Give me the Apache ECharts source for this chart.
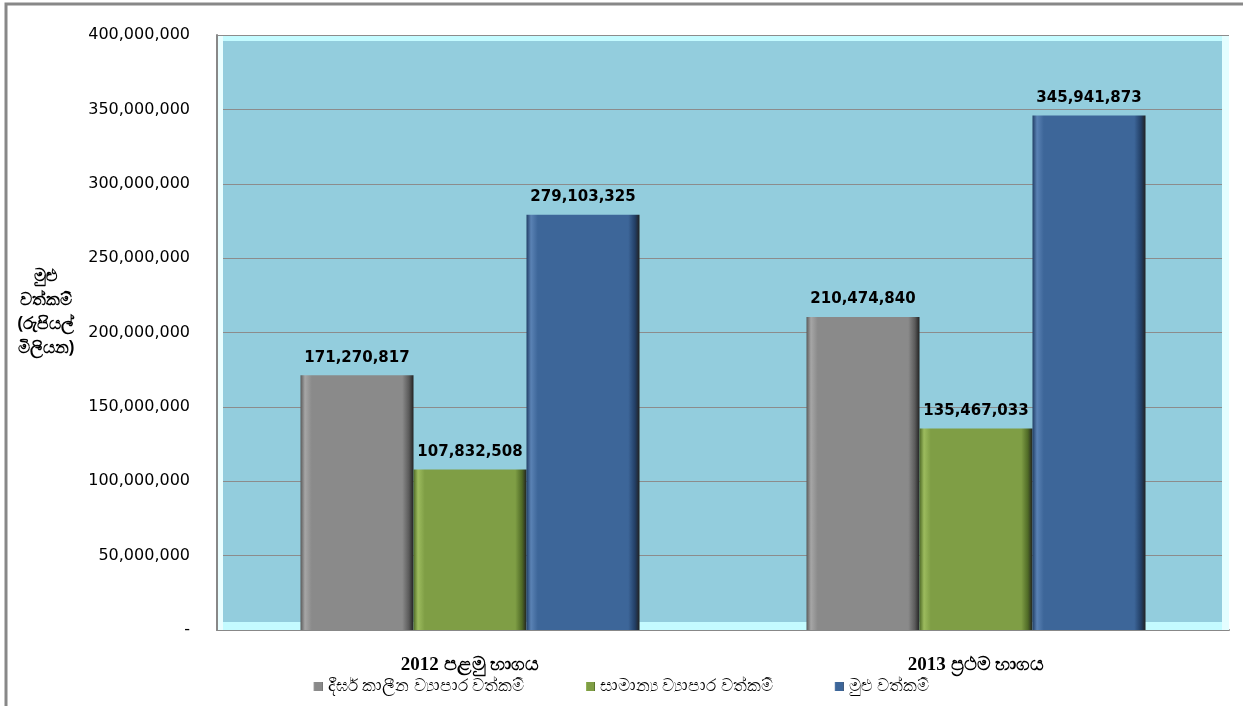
<!DOCTYPE html>
<html>
<head>
<meta charset="utf-8">
<script src="https://cdn.jsdelivr.net/npm/echarts@6/dist/echarts.min.js"></script>
<style>
html,body{margin:0;padding:0;background:#fff;}
#chart{width:1243px;height:706px;}
</style>
</head>
<body>
<div id="chart"></div>
<script>
var categories = ['2012 පළමු භාගය', '2013 ප්‍රථම භාගය'];
var seriesNames = ['දීර්ඝ කාලීන ව්‍යාපාර වත්කම්', 'සාමාන්‍ය ව්‍යාපාර වත්කම්', 'මුළු වත්කම්'];
var longTermAssets = [171270817, 210474840];
var currentAssets = [107832508, 135467033];
var totalAssets = [279103325, 345941873];
var yTicks = [0, 50000000, 100000000, 150000000, 200000000, 250000000, 300000000, 350000000, 400000000];
var yAxisTitle = 'මුළු\nවත්කම්\n(රුපියල්\nමිලියන)';

var colors = [
  ['#a6a6a6', '#8a8a8a', '#5a5a5a'],
  ['#9cbb5e', '#7f9e45', '#4f6a26'],
  ['#5a82b4', '#3d6699', '#223f66']
];
function grad(c) {
  return new echarts.graphic.LinearGradient(0, 0, 1, 0, [
    {offset: 0, color: c[2]},
    {offset: 0.04, color: c[0]},
    {offset: 0.1, color: c[1]},
    {offset: 0.9, color: c[1]},
    {offset: 0.96, color: c[2]},
    {offset: 1, color: '#222'}
  ]);
}
function fmt(v) { return v.toLocaleString('en-US'); }

var chart = echarts.init(document.getElementById('chart'));
var dataSets = [longTermAssets, currentAssets, totalAssets];
var series = dataSets.map(function (d, i) {
  return {
    name: seriesNames[i],
    type: 'bar',
    data: d,
    barGap: '0%',
    barCategoryGap: '33%',
    itemStyle: {color: grad(colors[i])},
    label: {
      show: true,
      position: 'top',
      distance: 10,
      formatter: function (p) { return fmt(p.value); },
      fontFamily: 'DejaVu Sans',
      fontWeight: 'bold',
      fontSize: 15,
      color: '#000'
    }
  };
});

chart.setOption({
  animation: false,
  color: [colors[0][1], colors[1][1], colors[2][1]],
  grid: {
    left: 217, right: 14, top: 35, bottom: 76,
    show: true,
    backgroundColor: '#93cddd',
    borderWidth: 0
  },
  legend: {
    bottom: 6,
    left: 'center',
    itemWidth: 9,
    itemHeight: 9,
    itemGap: 62,
    icon: 'rect',
    textStyle: {fontSize: 17, color: '#000', fontFamily: 'Noto Sans'},
    data: seriesNames
  },
  xAxis: {
    type: 'category',
    data: categories,
    axisLine: {show: true, lineStyle: {color: '#888', width: 2}},
    axisTick: {show: false},
    axisLabel: {
      margin: 26,
      fontSize: 19,
      fontWeight: 'bold',
      color: '#000',
      fontFamily: 'Liberation Serif'
    }
  },
  yAxis: {
    type: 'value',
    min: 0,
    max: 400000000,
    interval: 50000000,
    axisLine: {show: true, lineStyle: {color: '#888', width: 2}},
    axisTick: {show: false},
    splitLine: {show: true, lineStyle: {color: '#8c8c8c', width: 1}},
    axisLabel: {
      margin: 27,
      fontSize: 16,
      color: '#000',
      fontFamily: 'DejaVu Sans',
      formatter: function (v) { return v === 0 ? '-' : fmt(v); }
    }
  },
  graphic: [
    {
      type: 'rect', z: -10,
      shape: {x: 6, y: 4, width: 1260, height: 720},
      style: {fill: 'none', stroke: '#888', lineWidth: 3}
    },
    {
      type: 'rect', z: 1, silent: true,
      shape: {x: 218, y: 622, width: 1011, height: 8},
      style: {fill: '#c4fbff'}
    },
    {
      type: 'rect', z: 1, silent: true,
      shape: {x: 218, y: 36, width: 1011, height: 5},
      style: {fill: '#c4fbff'}
    },
    {
      type: 'rect', z: 1, silent: true,
      shape: {x: 1222, y: 36, width: 7, height: 594},
      style: {fill: '#e4feff'}
    },
    {
      type: 'rect', z: 1, silent: true,
      shape: {x: 218, y: 36, width: 5, height: 594},
      style: {fill: '#eafeff'}
    },
    {
      type: 'text',
      x: 46, y: 264,
      style: {
        text: yAxisTitle,
        fontSize: 17,
        lineHeight: 24,
        fontWeight: 'bold',
        fill: '#000',
        align: 'center',
        fontFamily: 'Noto Sans'
      }
    }
  ],
  series: series
});
</script>
</body>
</html>
